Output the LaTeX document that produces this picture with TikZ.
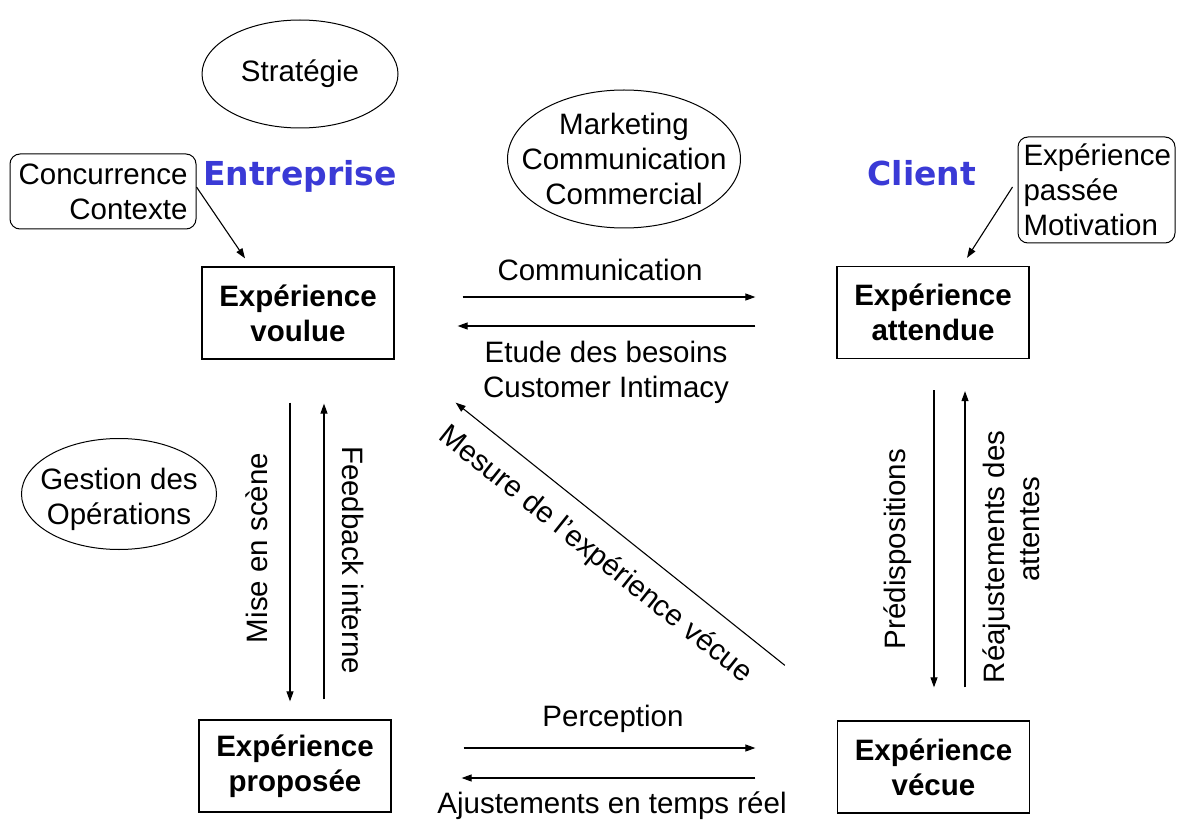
\documentclass[tikz,border=0pt]{standalone}
\usepackage{fontspec}
\setmainfont{Liberation Sans}
\newfontfamily\titlefont{DejaVu Sans}
\usetikzlibrary{shapes.geometric,arrows.meta,calc}
\definecolor{titleblue}{RGB}{58,58,214}
\begin{document}
\begin{tikzpicture}[x=1pt,y=-1pt,
  every node/.style={font=\fontsize{29.5}{35}\selectfont, inner sep=0pt},
  box/.style={draw, line width=1.3pt, minimum width=192pt, minimum height=92pt, align=center, font=\fontsize{29.5}{35}\selectfont\bfseries},
  oval/.style={draw, ellipse, line width=1pt, inner sep=0pt},
  rbox/.style={draw, rounded corners=10pt, line width=1pt},
  arr/.style={line width=1.1pt, -{Triangle[length=10pt,width=7pt]}},
  title/.style={font=\titlefont\bfseries\fontsize{33}{38}\selectfont, text=titleblue}
]
\useasboundingbox (0,0) rectangle (1178,821);

% ellipses (fixed size) with their texts
\node[oval, minimum width=196pt, minimum height=108pt] (strat) at (300,74) {};
\node (strattext) at (strat) {Stratégie};
\node[oval, minimum width=233pt, minimum height=138pt] (mkt) at (624,159) {};
\node[align=center] (mkttext) at (mkt) {Marketing\\Communication\\Commercial};
\node[oval, minimum width=195pt, minimum height=111pt] (gest) at (119,494) {};
\node[align=center] (gesttext) at (119,499) {Gestion des\\Opérations};

% rounded boxes
\node[rbox, minimum width=186pt, minimum height=75pt, align=right] (conc) at (103,191.5) {Concurrence\\Contexte};
\node[rbox, minimum width=157pt, minimum height=106pt, align=left, text width=146pt] (passee) at (1096.5,190) {Expérience\\passée\\Motivation};

% titles
\node[title] (ent) at (300,176) {Entreprise};
\node[title] (cli) at (922,173) {Client};

% main boxes
\node[box] (voulue) at (298,313) {Expérience\\voulue};
\node[box] (attendue) at (933,312.5) {Expérience\\attendue};
\node[box] (proposee) at (295,766) {Expérience\\proposée};
\node[box] (vecue) at (933.5,767) {Expérience\\vécue};

% input arrows
\draw[arr] ($(conc.east)+(0,-4.5)$) -- ($(voulue.north)+(-53,-8)$);
\draw[arr] ($(passee.west)+(-5,-3)$) -- ($(attendue.north)+(34,-8)$);

% top horizontal arrows
\draw[arr] ($(voulue.east)+(68,-16)$) -- ($(attendue.west)+(-81,-15.5)$);
\draw[arr] ($(attendue.west)+(-81,13.5)$) -- ($(voulue.east)+(63,13)$);
\node (comm) at (600,270) {Communication};
\node[align=center] (etude) at (606,372) {Etude des besoins\\Customer Intimacy};

% bottom horizontal arrows
\draw[arr] ($(proposee.east)+(72,-18)$) -- ($(vecue.west)+(-81.5,-19)$);
\draw[arr] ($(vecue.west)+(-81.5,11)$) -- ($(proposee.east)+(70,12)$);
\node (perc) at (613,719) {Perception};
\node (ajust) at (612,806) {Ajustements en temps réel};

% left vertical arrows
\draw[arr] ($(voulue.south)+(-8,43)$) -- ($(proposee.north)+(-5,-18)$);
\draw[arr] ($(proposee.north)+(29,-20)$) -- ($(voulue.south)+(26,44)$);
\node[rotate=90] (mise) at (257,548) {Mise en scène};
\node[rotate=-90] (feed) at (353,560) {Feedback interne};

% right vertical arrows
\draw[arr] ($(attendue.south)+(1,31)$) -- ($(vecue.north)+(0.5,-33)$);
\draw[arr] ($(vecue.north)+(31.5,-33)$) -- ($(attendue.south)+(32,32)$);
\node[rotate=90] (pred) at (898,549) {Prédispositions};
\node[rotate=90, align=center] (reaj) at (1011,557) {Réajustements des\\\hspace*{56pt}attentes};

% diagonal arrow
\draw[arr] ($(vecue.north west)+(-52,-55)$) -- ($(voulue.south east)+(61,43)$);
\node[rotate=-38.6] (mes) at (595,555) {Mesure de l’expérience vécue};
\end{tikzpicture}
\end{document}
